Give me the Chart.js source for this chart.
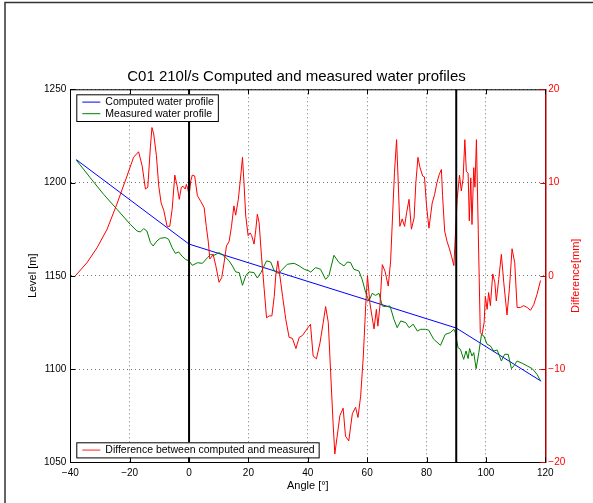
<!DOCTYPE html>
<html>
<head>
<meta charset="utf-8">
<script src="https://cdn.jsdelivr.net/npm/chart.js@4.4.1/dist/chart.umd.min.js"></script>
<style>
  html, body { margin: 0; padding: 0; background: #fff; }
  #wrap { width: 593px; height: 503px; }
</style>
</head>
<body>
<div id="wrap"><canvas id="chart" width="593" height="503"></canvas></div>
<script>
const FONT = '"Liberation Sans", Arial, Helvetica, sans-serif';

// axis ticks
const angleTicks = [-40, -20, 0, 20, 40, 60, 80, 100, 120];
const levelTicks = [1050, 1100, 1150, 1200, 1250];
const diffTicks = [-20, -10, 0, 10, 20];

// computed profile (breakpoints)
const angleComputed = [-38, 0, 90, 118.6];
const levelComputed = [1212.3, 1167, 1122, 1093.5];

// measured profile
const angleMeasured = [
  -38, -33.3, -28.8, -24.3, -19.8, -17.5, -16.4, -15.3, -14.2, -13, -12.1, -10.8, -9.7, -8, -6.9, -5.7,
  -4.6, -3.5, -2.4, -1.2, 0, 1.1, 2.8, 4.5, 6.2, 7.3, 8.4, 10.1, 11.2, 12.4, 13.5, 14.6, 15.7, 16.9,
  18, 19.1, 20.2, 21.9, 23, 24.2, 26.1, 27.5, 28.7, 30.1, 31.5, 33.1, 35.4, 37.1, 38.8, 40.4, 41,
  42.6, 44.3, 46, 47.1, 48.8, 50.5, 52.2, 53.3, 54.4, 55.5, 57.2, 58.3, 59.5, 60.6, 61.7, 62.8, 64,
  65.1, 66.2, 67.7, 69, 70.1, 71.3, 73, 74.1, 75.5, 76.9, 78, 79.7, 80.7, 82.4, 84.7, 86.3, 88, 89.2,
  89.7, 90.6, 91.4, 92.5, 93.3, 94, 94.5, 95.3, 95.9, 96.7, 97.6, 98.5, 99.3, 100.4, 101.5, 102.6,
  103.8, 105.2, 106.3, 107.5, 108.6, 109.4, 110.5, 112.2, 113.9, 115.6, 117.2, 118.4
];
const levelMeasured = [
  1212.1, 1202.6, 1193.7, 1185.7, 1177.6, 1174, 1173.5, 1175.3, 1174, 1167.8, 1166, 1168.7, 1170.1, 1170.5, 1169.6, 1165.1,
  1162, 1162.8, 1160.6, 1158.8, 1158, 1155.6, 1157, 1156.7, 1159.7, 1161.5, 1161, 1162.4, 1161.3, 1159.7, 1158, 1155.3, 1152.1, 1151.7,
  1144.9, 1150, 1152.1, 1151.7, 1148.8, 1151.7, 1158, 1157.4, 1152.6, 1151.3, 1153.5, 1156.2, 1156.7, 1155.3, 1153.5, 1152.6, 1152,
  1154.4, 1153.5, 1148.1, 1150, 1161, 1157.1, 1155.3, 1157.4, 1157.1, 1153.5, 1152.6, 1148.1, 1141, 1136.5, 1140.6, 1139.5, 1140.6,
  1133.8, 1133.5, 1133.8, 1126.7, 1122.2, 1125.8, 1124.9, 1122.2, 1124, 1120.4, 1121.3, 1121.3, 1120.9, 1116, 1112.7, 1118.6, 1119.5, 1121.3,
  1119.5, 1111.5, 1110.6, 1105.2, 1109.7, 1105.6, 1111, 1107, 1108.8, 1100.2, 1108.8, 1118.6, 1117.7, 1113.3, 1112.4, 1109.7,
  1110.2, 1104.3, 1107.9, 1107.9, 1100.2, 1101.7, 1104.3, 1103.1, 1101.7, 1100.2, 1097.2, 1093.6
];

// difference computed - measured [mm]
const angleDiff = [
  -38.3, -34.4, -31, -27.6, -24.3, -20.9, -18.7, -17, -15.8, -14.7, -13.9, -13, -12.5, -11.9, -11, -10.2,
  -9.4, -8.5, -7.4, -6.5, -5.7, -4.8, -4, -3.3, -2.6, -2, -1.3, -0.9, -0.4, 0, 0.6, 1.1, 1.9, 2.8, 3.9,
  5.1, 5.8, 6.5, 7, 7.5, 8.1, 9, 10.1, 11, 11.8, 12.6, 13.5, 14.3, 15.1, 15.7, 16.6, 17.4, 18, 18.5,
  19.1, 19.9, 20.6, 21.1, 21.9, 22.5, 23, 23.6, 24.4, 25.3, 26.1, 27, 27.9, 28.7, 29.2, 29.9, 30.6,
  31.5, 32.6, 33.7, 34.8, 36, 37.1, 38.2, 39.3, 40.4, 40.9, 41.8, 42.9, 44.1, 45.2, 46, 46.9, 47.7,
  48.5, 49.1, 49.9, 50.8, 51.9, 52.7, 53.8, 55, 56.1, 56.9, 57.8, 58.7, 59.5, 60.1, 60.9, 61.7, 62.3,
  63.1, 63.6, 64.3, 65.1, 66, 67.1, 67.9, 68.7, 69.2, 69.9, 70.4, 71, 71.8, 72.6, 73.3, 74.1, 74.9,
  75.8, 76.4, 77.1, 77.8, 78.7, 79.3, 80.0, 80.8, 81.9, 82.7, 83.5, 84.3, 85, 85.4, 86.1, 86.9, 87.7,
  88.4, 89.2, 89.7, 90.3, 91.1, 91.7, 92.3, 92.9, 93.4, 94, 94.4, 94.9, 95.3, 95.9, 96.3, 96.8, 98.1,
  98.7, 99.4, 99.8, 100.4, 100.9, 101.5, 102.3, 103, 103.5, 104.3, 105.2, 106, 107.1, 107.9, 108.8,
  109.7, 110.5, 111.6, 112.7, 113.9, 115, 116.1, 117.2, 118.4
];
const diffMm = [
  0, 1.4, 3.0, 5.0, 7.7, 10.7, 12.7, 13.3, 11.8, 9.3, 9.5, 13.9, 15.9, 15.2, 12.9, 9.6,
  7.8, 7.0, 5.3, 5.3, 7.1, 10.8, 9.6, 8.2, 9.5, 9.6, 9.3, 9.8, 9.3, 8.6, 10.2, 10.8, 10.7, 8.6, 8.0,
  7.3, 5.3, 3.6, 1.8, 2.0, 2.3, 1.1, -0.7, -0.2, 1.4, 3.2, 3.7, 5.3, 7.5, 6.5, 8.2, 10.7, 12.7, 10,
  6.4, 4.3, 4.6, 4.3, 3.4, 5.0, 6.6, 5.7, 2.1, -1.4, -4.5, -4.3, -4.3, -2.2, 0, 1.6, 0,
  -2.2, -4.7, -6.6, -6.7, -7.8, -6.6, -6.4, -5.9, -5.4, -5.2, -8.6, -8.9, -7.2, -5.0, -3.3, -5.0, -10.4,
  -15.7, -19.1, -17.2, -15.0, -14.2, -17.2, -17.7, -14.8, -14.1, -15.2, -12.9, -8.6, -3.2, 0, -2.9, -4.5, -5.7,
  -3.6, -5.4, -3.2, 1.2, 0.5, -1.1, 1.6, 7.5, 11.1, 14.6, 10.5, 5.3, 6.1, 5.3, 6.8, 8.2, 5.0,
  6.2, 10.0, 12.7, 11.6, 10.7, 10.6, 7.5, 5.1, 7.8, 8.7, 10.0, 10.9, 11.4, 8.6, 4.8, 3.7, 2.9,
  2.1, 1.1, 4.3, 8.2, 10.8, 9.1, 10.4, 14.6, 11.2, 11.0, 5.9, 10.5, 5.5, 11.6, 9.5, 14.6, -6.1,
  -6.3, -5.0, -2.2, -3.6, -1.8, -3.2, 0.2, -0.7, -2.7, -0.4, 2.3, -0.7, -4.2, -1.4, 2.9,
  1.4, -3.4, -3.4, -3.2, -3.4, -3.7, -3.1, -2.0, -0.5
];

// vertical reference lines
const markerAngles = [0, 90];

const pts = (xs, ys) => xs.map((x, i) => ({ x, y: ys[i] }));
const minus = v => String(v).replace('-', '\u2212');

const series = [
  { label: 'Computed water profile', data: pts(angleComputed, levelComputed), borderColor: '#0000ff', yAxisID: 'y', order: 3, box: 'top' },
  { label: 'Measured water profile', data: pts(angleMeasured, levelMeasured), borderColor: '#008000', yAxisID: 'y', order: 2, box: 'top' },
  { label: 'Difference between computed and measured', data: pts(angleDiff, diffMm), borderColor: '#ff0000', yAxisID: 'y2', order: 1, box: 'bottom', sample: '#ff6a6a' },
];
markerAngles.forEach(a => series.push({
  label: '', data: [{ x: a, y: levelTicks[0] }, { x: a, y: levelTicks[levelTicks.length - 1] }],
  borderColor: '#000', borderWidth: 2, yAxisID: 'y', order: 0
}));
series.forEach(s => Object.assign(s, { showLine: true, pointRadius: 0, fill: false, borderWidth: s.borderWidth || 1 }));

// figure frame, top axis line, inward tick marks and the right-hand axis title
const axisDecor = {
  id: 'axisDecor',
  beforeDraw(chart) {
    const { ctx, width, height } = chart;
    ctx.save();
    ctx.fillStyle = '#fff';
    ctx.fillRect(0, 0, width, height);
    ctx.strokeStyle = '#333';
    ctx.lineWidth = 1.5;
    ctx.beginPath();
    ctx.moveTo(5, height); ctx.lineTo(5, 2.5); ctx.lineTo(width, 2.5);
    ctx.stroke();
    ctx.restore();
  },
  afterDraw(chart) {
    const { ctx, chartArea: a, scales } = chart;
    ctx.save();
    ctx.lineWidth = 1;
    ctx.strokeStyle = '#000';
    ctx.beginPath();
    ctx.moveTo(a.left, a.top + 0.5); ctx.lineTo(a.right, a.top + 0.5);
    scales.x.ticks.forEach(t => {
      const px = Math.round(scales.x.getPixelForValue(t.value)) + 0.5;
      ctx.moveTo(px, a.bottom); ctx.lineTo(px, a.bottom - 5);
      ctx.moveTo(px, a.top); ctx.lineTo(px, a.top + 5);
    });
    scales.y.ticks.forEach(t => {
      const py = Math.round(scales.y.getPixelForValue(t.value)) + 0.5;
      ctx.moveTo(a.left, py); ctx.lineTo(a.left + 5, py);
    });
    ctx.stroke();
    ctx.strokeStyle = '#d00000';
    ctx.beginPath();
    scales.y2.ticks.forEach(t => {
      const py = Math.round(scales.y2.getPixelForValue(t.value)) + 0.5;
      ctx.moveTo(a.right, py); ctx.lineTo(a.right - 5, py);
    });
    ctx.stroke();

    // right axis title reads bottom-to-top like the left one
    ctx.translate(576, (a.top + a.bottom) / 2);
    ctx.rotate(-Math.PI / 2);
    ctx.fillStyle = '#ff0000';
    ctx.font = '11px ' + FONT;
    ctx.textAlign = 'center';
    ctx.textBaseline = 'middle';
    ctx.fillText('Difference[mm]', 0, 0);
    ctx.restore();
  }
};

// two legend boxes: top-left for the profiles, bottom-left for the difference
const boxLegends = {
  id: 'boxLegends',
  afterDraw(chart) {
    const { ctx, chartArea: a } = chart;
    ctx.save();
    ctx.font = '10.5px ' + FONT;
    ctx.textBaseline = 'middle';
    const draw = (items, top, rowH, firstY) => {
      const w = 29 + Math.max(...items.map(d => ctx.measureText(d.label).width)) + 4;
      const h = firstY + rowH * (items.length - 1) + firstY - 0.5;
      const left = a.left + 6;
      ctx.fillStyle = '#fff';
      ctx.fillRect(left, top, w, h);
      ctx.strokeStyle = '#000';
      ctx.lineWidth = 1;
      ctx.strokeRect(left + 0.5, top + 0.5, w, h);
      items.forEach((d, i) => {
        const y = top + firstY + i * rowH;
        ctx.strokeStyle = d.sample || d.borderColor;
        ctx.lineWidth = d.sample ? 1.5 : 1;
        ctx.beginPath();
        ctx.moveTo(left + 6, y); ctx.lineTo(left + 24, y);
        ctx.stroke();
        ctx.fillStyle = '#000';
        ctx.fillText(d.label, left + 29, y);
      });
    };
    const ds = chart.data.datasets;
    draw(ds.filter(d => d.box === 'top'), a.top + 5, 11.6, 7.8);
    draw(ds.filter(d => d.box === 'bottom'), a.bottom - 20, 11.6, 7.8);
    ctx.restore();
  }
};

new Chart(document.getElementById('chart'), {
  type: 'scatter',
  data: { datasets: series },
  options: {
    responsive: false,
    animation: false,
    layout: { padding: 0 },
    plugins: {
      legend: { display: false },
      tooltip: { enabled: false },
      title: {
        display: true,
        text: 'C01 210l/s Computed and measured water profiles',
        color: '#000',
        font: { family: FONT, size: 15, weight: 'normal' },
        padding: { top: 67.5, bottom: 3.8 }
      }
    },
    scales: {
      x: {
        type: 'linear', min: -40, max: 120,
        afterBuildTicks: s => { s.ticks = angleTicks.map(value => ({ value })); },
        afterFit: s => { s.height = 40.7; },
        ticks: { color: '#000', padding: 5, font: { family: FONT, size: 10 }, callback: minus },
        grid: { color: 'rgba(0,0,0,0.55)', drawTicks: false },
        border: { display: true, color: '#000', width: 1, dash: [1, 3] },
        title: { display: true, text: 'Angle [\u00b0]', color: '#000', font: { family: FONT, size: 11 }, padding: { top: 10.4, bottom: 10.4 } }
      },
      y: {
        position: 'left', min: 1050, max: 1250,
        afterBuildTicks: s => { s.ticks = levelTicks.map(value => ({ value })); },
        afterFit: s => { s.width = 70.3; },
        ticks: { color: '#000', padding: 4, font: { family: FONT, size: 10 }, callback: v => String(v) },
        grid: { color: 'rgba(0,0,0,0.55)', drawTicks: false },
        border: { display: true, color: '#000', width: 1, dash: [1, 3] },
        title: { display: true, text: 'Level [m]', color: '#000', font: { family: FONT, size: 11 }, padding: { top: 26.4, bottom: 26.4 } }
      },
      y2: {
        position: 'right', min: -20, max: 20,
        afterBuildTicks: s => { s.ticks = diffTicks.map(value => ({ value })); },
        afterFit: s => { s.width = 47.7; },
        ticks: { color: '#ff0000', padding: 3, font: { family: FONT, size: 10 }, callback: minus },
        grid: { drawOnChartArea: false, drawTicks: false },
        border: { display: true, color: '#b00000', width: 1.5 }
      }
    }
  },
  plugins: [axisDecor, boxLegends]
});
</script>
</body>
</html>
